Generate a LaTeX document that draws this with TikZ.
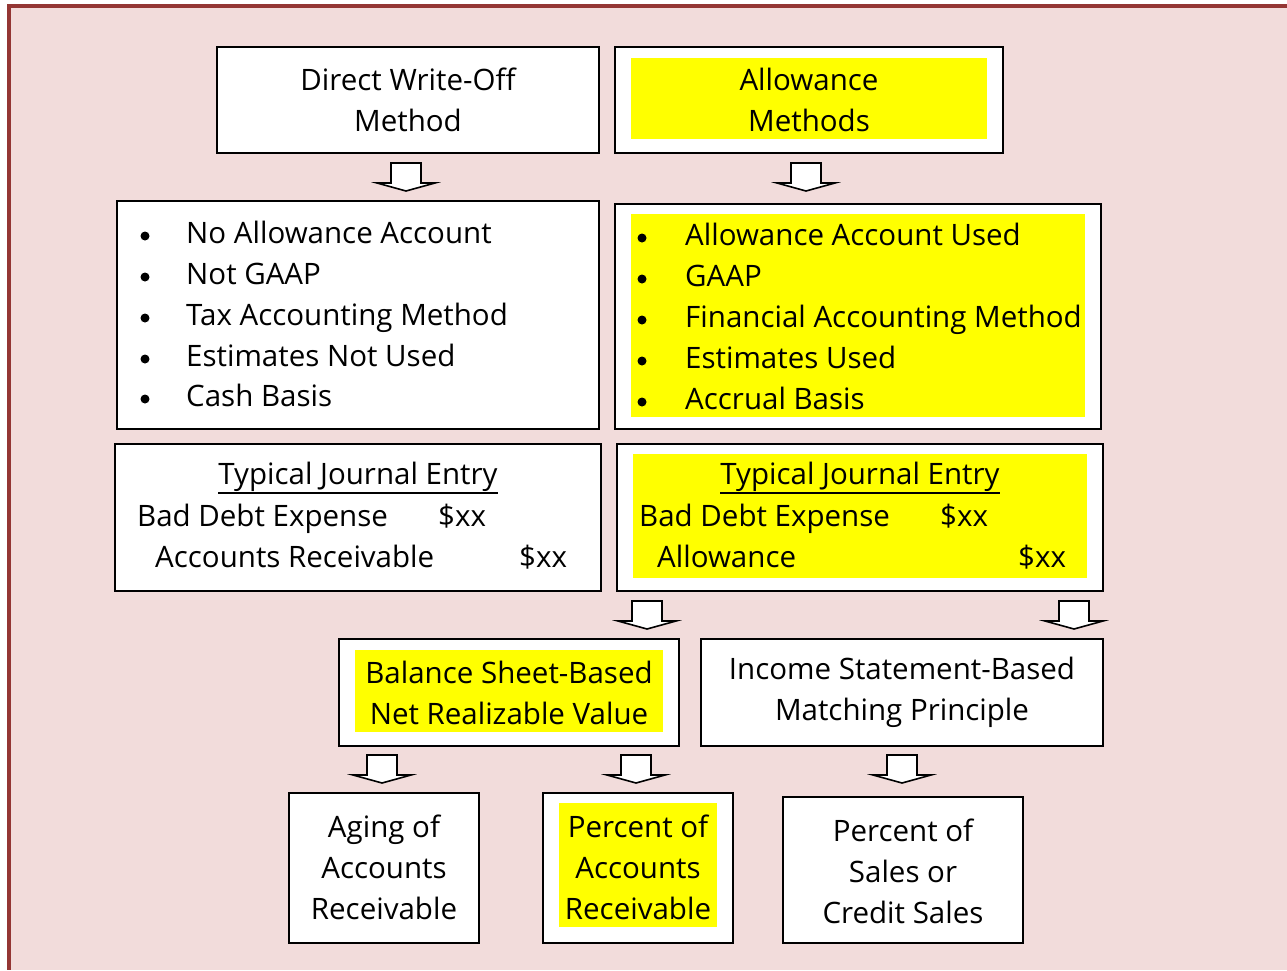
\documentclass[tikz,border=0pt]{standalone}
\usepackage{fontspec}
\setmainfont{Open Sans}
\usetikzlibrary{calc}
\definecolor{bgpink}{HTML}{F2DCDB}
\definecolor{framered}{HTML}{943634}
\definecolor{hl}{HTML}{FFFF00}
\tikzset{
  box/.style={draw=black, line width=2pt, fill=white, inner sep=0pt},
  hlbox/.style={fill=hl, draw=none, inner sep=0pt},
  txt/.style={font=\fontsize{29.5}{41}\selectfont, inner sep=0pt, align=center},
  ltxt/.style={font=\fontsize{29.5}{41}\selectfont, inner sep=0pt, anchor=mid west, yshift=-7pt},
  bullet/.style={fill=black},
  uline/.style={line width=1.6pt},
  pics/downarrow/.style={code={
    \draw[line width=1.6pt, fill=white, line join=miter]
      (-15,0) -- (15,0) -- (15,20) -- (29,20) -- (0,28) -- (-29,20) -- (-15,20) -- cycle;}}
}
\begin{document}
\begin{tikzpicture}[x=1pt,y=-1pt]
\useasboundingbox (0,0) rectangle (1287,970);
% page background and frame
\fill[bgpink] (7,4) rectangle (1287,970);
\fill[framered] (7,4) rectangle (1287,8);
\fill[framered] (7,4) rectangle (11,970);

% ---- top row: the two methods
\node[box, minimum width=382pt, minimum height=106pt] (dwo) at (408,100) {};
\node[txt] (dwot) at (408,100) {Direct Write-Off\\Method};
\node[box, minimum width=388pt, minimum height=106pt] (am) at (809,100) {};
\node[hlbox, minimum width=356pt, minimum height=81pt] (amh) at (809,98.5) {};
\node[txt] (amt) at (809,100) {Allowance\\Methods};

% ---- characteristics
\node[box, minimum width=482pt, minimum height=228pt] (lb) at (358,315) {};
\node[box, minimum width=486pt, minimum height=225pt] (rb) at (858,316.5) {};
\node[hlbox, minimum width=454pt, minimum height=203pt] (rbh) at (858,315.5) {};
\foreach \y/\t [count=\i] in {234/No Allowance Account, 275/Not GAAP, 316/Tax Accounting Method, 357/Estimates Not Used, 397/Cash Basis}{
  \fill[bullet] (145,\y+2) circle (4.5);
  \node[ltxt] (lbt\i) at (186,\y) {\t};
}
\foreach \y/\t [count=\i] in {236/Allowance Account Used, 277/GAAP, 318/Financial Accounting Method, 359/Estimates Used, 400/Accrual Basis}{
  \fill[bullet] (642,\y+2) circle (4.5);
  \node[ltxt] (rbt\i) at (685,\y) {\t};
}

% ---- journal entries
\node[box, minimum width=486pt, minimum height=147pt] (lj) at (358,517.5) {};
\node[txt] (ljt) at (358,477) {Typical Journal Entry};
\draw[uline] ($(ljt.south west)+(0,1)$) -- ($(ljt.south east)+(0,1)$);
\node[ltxt] (lj1) at (137,517) {Bad Debt Expense};
\node[ltxt] (lj2) at (438,517) {\$xx};
\node[ltxt] (lj3) at (155,558) {Accounts Receivable};
\node[ltxt] (lj4) at (519,558) {\$xx};

\node[box, minimum width=486pt, minimum height=147pt] (rj) at (860,517.5) {};
\node[hlbox, minimum width=454pt, minimum height=124pt] (rjh) at (860,516) {};
\node[txt] (rjt) at (860,477) {Typical Journal Entry};
\draw[uline] ($(rjt.south west)+(0,1)$) -- ($(rjt.south east)+(0,1)$);
\node[ltxt] (rj1) at (639,517) {Bad Debt Expense};
\node[ltxt] (rj2) at (940,517) {\$xx};
\node[ltxt] (rj3) at (657,558) {Allowance};
\node[ltxt] (rj4) at (1018,558) {\$xx};

% ---- the two allowance approaches
\node[box, minimum width=340pt, minimum height=107pt] (bs) at (509,692.5) {};
\node[hlbox, minimum width=308pt, minimum height=82pt] (bsh) at (509,691) {};
\node[txt] (bst) at (509,692.5) {Balance Sheet-Based\\Net Realizable Value};
\node[box, minimum width=402pt, minimum height=107pt] (is) at (902,692.5) {};
\node[txt] (ist) at (902,692.5) {Income Statement-Based\\Matching Principle};

% ---- estimation methods
\node[box, minimum width=190pt, minimum height=150pt] (ag) at (384,868) {};
\node[txt] (agt) at (384,867) {Aging of\\Accounts\\Receivable};
\node[box, minimum width=190pt, minimum height=150pt] (pa) at (638,868) {};
\node[hlbox, minimum width=158pt, minimum height=124pt] (pah) at (638,865) {};
\node[txt] (pat) at (638,867) {Percent of\\Accounts\\Receivable};
\node[box, minimum width=240pt, minimum height=146pt] (ps) at (903,870) {};
\node[txt] (pst) at (903,871) {Percent of\\Sales or\\Credit Sales};

% ---- block arrows
\pic at ($(dwo.south)+(-2,9)$) {downarrow};
\pic at ($(am.south)+(-3,9)$) {downarrow};
\pic at ($(rj.south)+(-213,9)$) {downarrow};
\pic at ($(rj.south)+(214,9)$) {downarrow};
\pic at ($(bs.south)+(-127,8)$) {downarrow};
\pic at ($(bs.south)+(127,8)$) {downarrow};
\pic at ($(is.south)+(0,8)$) {downarrow};
\end{tikzpicture}
\end{document}
